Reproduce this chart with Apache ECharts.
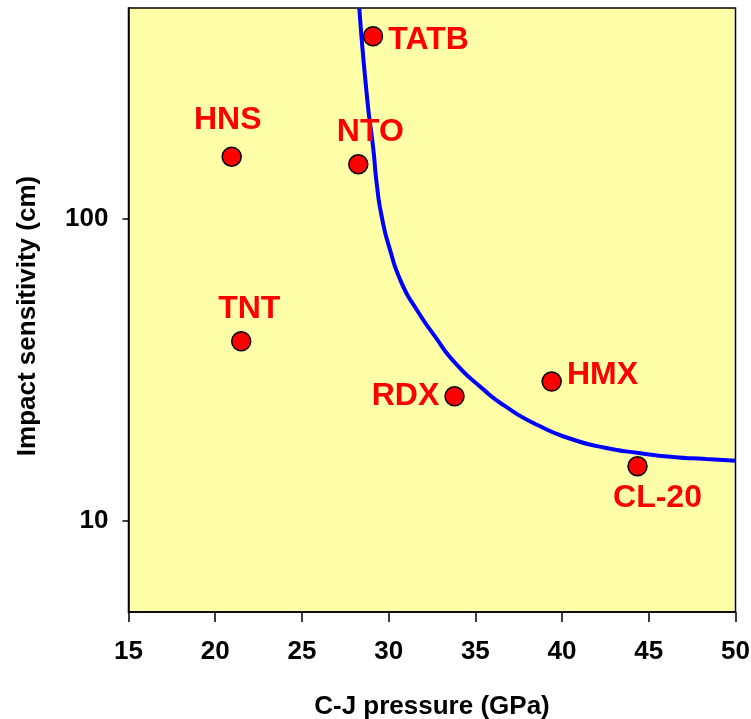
<!DOCTYPE html>
<html>
<head>
<meta charset="utf-8">
<script src="https://cdn.jsdelivr.net/npm/echarts@6/dist/echarts.min.js"></script>
<style>html,body{margin:0;padding:0;background:#fff}#c{width:751px;height:719px}</style>
</head>
<body>
<div id="c"></div>
<script>
// Data
var names = ['TATB', 'HNS', 'NTO', 'TNT', 'RDX', 'HMX', 'CL-20'];
var pressure = [29.1, 20.95, 28.25, 21.5, 33.8, 39.4, 44.35];
var sensitivity = [403, 161, 152, 39.4, 25.9, 29.0, 15.2];

var curveX = [28.31, 28.77, 29.12, 29.31, 29.60, 30.08, 30.75, 31.62, 32.67, 33.83, 35.46, 36.63, 38.58, 40.53, 42.47, 44.42, 46.37, 48.31, 50];
var curveY = [499, 248, 169.6, 131.5, 102, 79.1, 61.4, 50.1, 40.9, 33.4, 27.3, 24.2, 20.8, 18.7, 17.5, 16.8, 16.3, 16.05, 15.85];

var xTicks = [15, 20, 25, 30, 35, 40, 45, 50];
var yTicks = [10, 100];

var FONT = "'Liberation Sans', Arial, sans-serif";

// label placement (style only)
var labelStyle = {
  'TATB': {position: 'right', distance: 5, offset: [0, 4]},
  'HNS': {position: 'top', distance: 10, offset: [-4, 0]},
  'NTO': {position: 'top', distance: 6, offset: [12, 0]},
  'TNT': {position: 'top', distance: 6, offset: [8, 0]},
  'RDX': {position: 'left', distance: 5, offset: [0, 0]},
  'HMX': {position: 'right', distance: 5, offset: [0, -6]},
  'CL-20': {position: 'bottom', distance: 6, offset: [20, 0]}
};

var scatterData = names.map(function (n, i) {
  return {
    name: n,
    value: [pressure[i], sensitivity[i]],
    label: Object.assign({show: true, formatter: n}, labelStyle[n])
  };
});
var curveData = curveX.map(function (x, i) { return [x, curveY[i]]; });

var chart = echarts.init(document.getElementById('c'), null, {renderer: 'canvas'});
chart.setOption({
  animation: false,
  grid: {
    left: 128.5, right: 15.5, top: 8, bottom: 107,
    outerBoundsMode: 'none', containLabel: false,
    show: true, backgroundColor: '#FFFFA8', borderColor: '#000', borderWidth: 1.5
  },
  xAxis: {
    type: 'value', min: 15, max: 50, interval: 5,
    name: 'C-J pressure (GPa)', nameLocation: 'middle', nameGap: 82,
    nameTextStyle: {fontFamily: FONT, fontWeight: 'bold', fontSize: 26, color: '#000'},
    axisLine: {show: true, lineStyle: {color: '#000', width: 1.5}},
    axisTick: {show: true, inside: false, length: 10, lineStyle: {color: '#000', width: 1.5}},
    axisLabel: {fontFamily: FONT, fontWeight: 'bold', fontSize: 26, color: '#000', margin: 27,
      customValues: xTicks},
    splitLine: {show: false}
  },
  yAxis: {
    type: 'log', logBase: 10, min: 5, max: 500,
    name: 'Impact sensitivity (cm)', nameLocation: 'middle', nameGap: 88, nameRotate: 90,
    nameTextStyle: {fontFamily: FONT, fontWeight: 'bold', fontSize: 26, color: '#000',
      padding: [0, 12, 0, 0]},
    axisLine: {show: true, lineStyle: {color: '#000', width: 1.5}},
    axisTick: {show: true, inside: false, length: 6, lineStyle: {color: '#000', width: 1.5},
      customValues: yTicks},
    axisLabel: {fontFamily: FONT, fontWeight: 'bold', fontSize: 26, color: '#000', margin: 20,
      customValues: yTicks},
    splitLine: {show: false},
    minorTick: {show: false}
  },
  series: [
    {
      type: 'line', data: curveData, smooth: 0.6, showSymbol: false, clip: true,
      lineStyle: {color: '#0000FF', width: 4}, z: 2
    },
    {
      type: 'scatter', data: scatterData, symbol: 'circle', symbolSize: 19,
      itemStyle: {color: '#FF0000', borderColor: '#000', borderWidth: 1.5, opacity: 1},
      label: {fontFamily: FONT, fontWeight: 'bold', fontSize: 32, color: '#FF0000'},
      z: 3
    }
  ]
});
</script>
</body>
</html>
